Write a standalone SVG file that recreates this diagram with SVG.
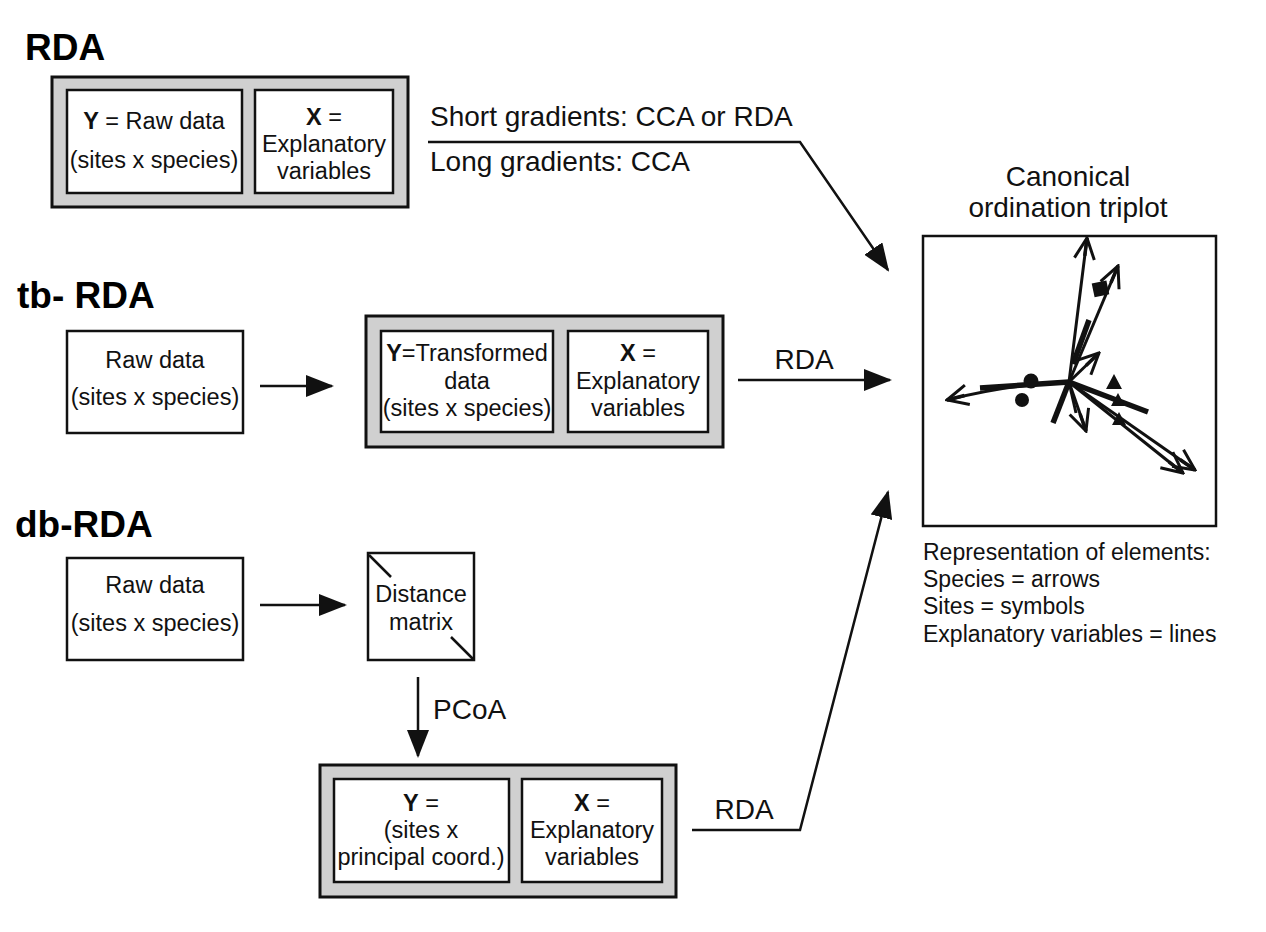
<svg xmlns="http://www.w3.org/2000/svg" width="1266" height="932" viewBox="0 0 1266 932">
<defs>
<style>
.t{font-family:"Liberation Sans",Arial,sans-serif;font-size:23.5px;fill:#111;text-anchor:middle}
.lbl{font-family:"Liberation Sans",Arial,sans-serif;font-size:28px;fill:#111}
.leg{font-family:"Liberation Sans",Arial,sans-serif;font-size:23px;fill:#111}
.title{font-family:"Liberation Sans",Arial,sans-serif;font-size:37px;font-weight:bold;fill:#000}
.b{font-weight:bold}
.outer{fill:#d0d0d0;stroke:#111;stroke-width:3}
.inner{fill:#fff;stroke:#111;stroke-width:2.5}
.box{fill:#fff;stroke:#111;stroke-width:2.5}
.con{fill:none;stroke:#111;stroke-width:2.5}
.sp{fill:none;stroke:#111;stroke-width:3}
.ev{fill:none;stroke:#111;stroke-width:5.5;stroke-linecap:butt}
</style>
<marker id="solid" markerUnits="userSpaceOnUse" viewBox="0 0 28 22" refX="26" refY="11" markerWidth="28" markerHeight="22" orient="auto">
<path d="M0,0 L28,11 L0,22 Z" fill="#111"/>
</marker>
<marker id="open" markerUnits="userSpaceOnUse" viewBox="0 0 24 24" refX="22" refY="12" markerWidth="24" markerHeight="24" orient="auto">
<path d="M1,2 L22,12 L1,22" fill="none" stroke="#111" stroke-width="3"/>
<path d="M4,12 L22,12" fill="none" stroke="#111" stroke-width="3.5"/>
</marker>
</defs>
<rect width="1266" height="932" fill="#fff"/>

<text class="title" x="25" y="60">RDA</text>
<text class="title" x="17" y="308">tb- RDA</text>
<text class="title" x="15" y="537">db-RDA</text>

<g id="rda-yx">
<rect class="outer" x="52" y="77" width="356" height="130"/>
<rect class="inner" x="67" y="90" width="175" height="103"/>
<rect class="inner" x="255" y="90" width="138" height="103"/>
<text class="t" x="154" y="129"><tspan class="b">Y</tspan> = Raw data</text>
<text class="t" x="154" y="168">(sites x species)</text>
<text class="t" x="324" y="125"><tspan class="b">X</tspan> =</text>
<text class="t" x="324" y="152">Explanatory</text>
<text class="t" x="324" y="179">variables</text>
</g>

<g id="tb-raw">
<rect class="box" x="67" y="331" width="176" height="102"/>
<text class="t" x="155" y="368">Raw data</text>
<text class="t" x="155" y="405">(sites x species)</text>
</g>

<g id="tb-yx">
<rect class="outer" x="366" y="316" width="357" height="131"/>
<rect class="inner" x="381" y="331" width="172" height="101"/>
<rect class="inner" x="568" y="331" width="140" height="101"/>
<text class="t" x="467" y="361"><tspan class="b">Y</tspan>=Transformed</text>
<text class="t" x="467" y="389">data</text>
<text class="t" x="467" y="416">(sites x species)</text>
<text class="t" x="638" y="361"><tspan class="b">X</tspan> =</text>
<text class="t" x="638" y="389">Explanatory</text>
<text class="t" x="638" y="416">variables</text>
</g>

<g id="db-raw">
<rect class="box" x="67" y="558" width="176" height="102"/>
<text class="t" x="155" y="593">Raw data</text>
<text class="t" x="155" y="631">(sites x species)</text>
</g>

<g id="db-dist">
<rect class="box" x="368" y="553" width="106" height="107"/>
<line x1="369" y1="555" x2="391" y2="577" stroke="#111" stroke-width="2.5"/>
<line x1="451" y1="637" x2="473" y2="659" stroke="#111" stroke-width="2.5"/>
<text class="t" x="421" y="602">Distance</text>
<text class="t" x="421" y="630">matrix</text>
</g>

<g id="db-yx">
<rect class="outer" x="320" y="765" width="356" height="132"/>
<rect class="inner" x="334" y="779" width="175" height="103"/>
<rect class="inner" x="522" y="779" width="140" height="103"/>
<text class="t" x="421" y="811"><tspan class="b">Y</tspan> =</text>
<text class="t" x="421" y="838">(sites x</text>
<text class="t" x="421" y="865">principal coord.)</text>
<text class="t" x="592" y="811"><tspan class="b">X</tspan> =</text>
<text class="t" x="592" y="838">Explanatory</text>
<text class="t" x="592" y="865">variables</text>
</g>

<g id="triplot">
<text class="lbl" x="1068" y="186" text-anchor="middle">Canonical</text>
<text class="lbl" x="1068" y="217" text-anchor="middle">ordination triplot</text>
<rect class="box" x="923" y="236" width="293" height="290"/>
<line class="ev" x1="1069" y1="382" x2="980" y2="388"/>
<line class="ev" x1="1073" y1="364" x2="1089" y2="320"/>
<line class="ev" x1="1069" y1="382" x2="1053" y2="423"/>
<line class="ev" x1="1069" y1="382" x2="1148" y2="412"/>
<line class="sp" x1="1069" y1="382" x2="1087" y2="238" marker-end="url(#open)"/>
<line class="sp" x1="1069" y1="382" x2="1118" y2="266" marker-end="url(#open)"/>
<line class="sp" x1="1069" y1="382" x2="1099" y2="353" marker-end="url(#open)"/>
<path class="sp" d="M1069,382 Q1010,384 947,400" stroke-width="4" marker-end="url(#open)"/>
<line class="sp" x1="1069" y1="382" x2="1086" y2="431" marker-end="url(#open)"/>
<line class="sp" x1="1069" y1="382" x2="1076" y2="413"/>
<line class="sp" x1="1069" y1="382" x2="1195" y2="470" marker-end="url(#open)"/>
<line class="sp" x1="1069" y1="382" x2="1183" y2="473" marker-end="url(#open)"/>
<rect x="1093" y="282" width="15" height="14" fill="#111" transform="rotate(-12 1100 289)"/>
<circle cx="1031" cy="381" r="7.5" fill="#111"/>
<circle cx="1022" cy="400" r="7" fill="#111"/>
<polygon points="1114,374 1106,389 1122,389" fill="#111"/>
<polygon points="1118,393 1111,406 1125,406" fill="#111"/>
<polygon points="1119,412 1112,425 1126,425" fill="#111"/>
</g>

<g id="legend">
<text class="leg" x="923" y="560">Representation of elements:</text>
<text class="leg" x="923" y="587">Species = arrows</text>
<text class="leg" x="923" y="614">Sites = symbols</text>
<text class="leg" x="923" y="642">Explanatory variables = lines</text>
</g>

<g id="connectors">
<polyline class="con" points="428,142 800,142 888,270" marker-end="url(#solid)"/>
<text class="lbl" x="430" y="126">Short gradients: CCA or RDA</text>
<text class="lbl" x="430" y="171">Long gradients: CCA</text>
<line class="con" x1="260" y1="386" x2="332" y2="386" marker-end="url(#solid)"/>
<line class="con" x1="738" y1="380" x2="890" y2="380" marker-end="url(#solid)"/>
<text class="lbl" x="804" y="369" text-anchor="middle">RDA</text>
<line class="con" x1="260" y1="605" x2="345" y2="605" marker-end="url(#solid)"/>
<line class="con" x1="418" y1="677" x2="418" y2="756" marker-end="url(#solid)"/>
<text class="lbl" x="433" y="719" font-size="26">PCoA</text>
<polyline class="con" points="692,830 800,830 888,492" marker-end="url(#solid)"/>
<text class="lbl" x="744" y="819" text-anchor="middle">RDA</text>
</g>
</svg>
